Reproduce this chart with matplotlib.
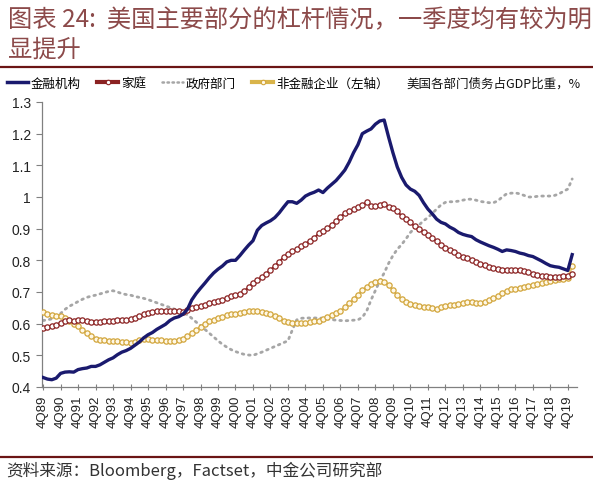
import matplotlib
matplotlib.use('Agg')
import matplotlib.pyplot as plt
from matplotlib.lines import Line2D
from matplotlib.ticker import FuncFormatter

# ---------------- data ----------------
tick_labels = ["4Q89", "4Q90", "4Q91", "4Q92", "4Q93", "4Q94", "4Q95", "4Q96",
               "4Q97", "4Q98", "4Q99", "4Q00", "4Q01", "4Q02", "4Q03", "4Q04",
               "4Q05", "4Q06", "4Q07", "4Q08", "4Q09", "4Q10", "4Q11", "4Q12",
               "4Q13", "4Q14", "4Q15", "4Q16", "4Q17", "4Q18", "4Q19"]

financial = [0.430, 0.425, 0.423, 0.428, 0.443, 0.447, 0.448, 0.447, 0.455, 0.458,
             0.460, 0.465, 0.465, 0.470, 0.478, 0.486, 0.492, 0.502, 0.510, 0.515,
             0.522, 0.532, 0.542, 0.555, 0.565, 0.572, 0.582, 0.590, 0.598, 0.610,
             0.618, 0.622, 0.630, 0.645, 0.675, 0.695, 0.712, 0.728, 0.745, 0.760,
             0.772, 0.782, 0.795, 0.800, 0.800, 0.815, 0.832, 0.848, 0.862, 0.895,
             0.910, 0.918, 0.925, 0.935, 0.950, 0.968, 0.985, 0.985, 0.980, 0.990,
             1.003, 1.010, 1.015, 1.022, 1.014, 1.028, 1.040, 1.052, 1.068, 1.085,
             1.110, 1.140, 1.165, 1.200, 1.208, 1.215, 1.230, 1.240, 1.243, 1.190,
             1.140, 1.095, 1.062, 1.038, 1.025, 1.018, 1.005, 0.982, 0.962, 0.947,
             0.930, 0.920, 0.915, 0.905, 0.898, 0.888, 0.882, 0.878, 0.875, 0.865,
             0.858, 0.852, 0.846, 0.841, 0.835, 0.828, 0.833, 0.831, 0.828, 0.823,
             0.820, 0.815, 0.812, 0.805, 0.798, 0.790, 0.783, 0.780, 0.778, 0.773,
             0.768, 0.818]

household = [0.587, 0.588, 0.592, 0.597, 0.603, 0.610, 0.612, 0.609, 0.611, 0.612,
             0.608, 0.606, 0.605, 0.605, 0.607, 0.609, 0.610, 0.611, 0.612, 0.612,
             0.615, 0.619, 0.624, 0.629, 0.633, 0.638, 0.640, 0.640, 0.641, 0.640,
             0.641, 0.639, 0.638, 0.643, 0.648, 0.652, 0.656, 0.660, 0.665, 0.670,
             0.672, 0.674, 0.682, 0.686, 0.690, 0.695, 0.703, 0.715, 0.730, 0.738,
             0.747, 0.757, 0.770, 0.782, 0.795, 0.810, 0.820, 0.828, 0.835, 0.845,
             0.852, 0.862, 0.870, 0.885, 0.892, 0.902, 0.912, 0.925, 0.938, 0.948,
             0.955, 0.962, 0.968, 0.975, 0.984, 0.972, 0.972, 0.975, 0.978, 0.970,
             0.965, 0.955, 0.940, 0.930, 0.920, 0.907, 0.900, 0.890, 0.880, 0.872,
             0.860, 0.850, 0.840, 0.832, 0.825, 0.818, 0.812, 0.806, 0.800, 0.795,
             0.790, 0.785, 0.780, 0.776, 0.773, 0.771, 0.770, 0.770, 0.770, 0.768,
             0.767, 0.763, 0.758, 0.755, 0.752, 0.749, 0.748, 0.747, 0.748, 0.750,
             0.752, 0.757]

government = [0.610, 0.612, 0.615, 0.622, 0.632, 0.645, 0.655, 0.662, 0.670, 0.677,
              0.683, 0.687, 0.690, 0.694, 0.698, 0.702, 0.704, 0.700, 0.695, 0.692,
              0.690, 0.686, 0.683, 0.680, 0.676, 0.671, 0.666, 0.661, 0.656, 0.651,
              0.646, 0.641, 0.636, 0.628, 0.617, 0.605, 0.594, 0.582, 0.570, 0.558,
              0.546, 0.535, 0.526, 0.518, 0.512, 0.507, 0.503, 0.501, 0.500, 0.505,
              0.510, 0.516, 0.522, 0.528, 0.534, 0.540, 0.546, 0.580, 0.612, 0.617,
              0.618, 0.618, 0.618, 0.618, 0.617, 0.615, 0.613, 0.611, 0.610, 0.609,
              0.610, 0.611, 0.612, 0.620, 0.640, 0.675, 0.705, 0.735, 0.760, 0.790,
              0.815, 0.835, 0.850, 0.868, 0.888, 0.902, 0.912, 0.925, 0.935, 0.948,
              0.962, 0.975, 0.983, 0.985, 0.985, 0.987, 0.990, 0.993, 0.993, 0.990,
              0.986, 0.984, 0.982, 0.982, 0.988, 1.000, 1.010, 1.012, 1.013, 1.010,
              1.005, 1.000, 1.000, 1.002, 1.003, 1.003, 1.003, 1.005, 1.010, 1.018,
              1.025, 1.057]

nonfinancial = [0.636, 0.630, 0.626, 0.625, 0.625, 0.618, 0.610, 0.600, 0.592, 0.580,
                0.570, 0.560, 0.553, 0.549, 0.547, 0.546, 0.545, 0.544, 0.543, 0.541,
                0.540, 0.543, 0.548, 0.552, 0.551, 0.549, 0.549, 0.547, 0.545, 0.546,
                0.546, 0.548, 0.552, 0.560, 0.570, 0.580, 0.590, 0.600, 0.608, 0.613,
                0.618, 0.622, 0.626, 0.630, 0.632, 0.635, 0.638, 0.641, 0.641, 0.640,
                0.637, 0.634, 0.630, 0.625, 0.618, 0.610, 0.605, 0.603, 0.602, 0.602,
                0.603, 0.604, 0.607, 0.610, 0.614, 0.620, 0.626, 0.633, 0.640, 0.652,
                0.664, 0.678, 0.692, 0.705, 0.716, 0.726, 0.733, 0.736, 0.732, 0.722,
                0.705, 0.690, 0.678, 0.668, 0.663, 0.659, 0.656, 0.653, 0.652, 0.650,
                0.647, 0.652, 0.656, 0.658, 0.660, 0.663, 0.664, 0.667, 0.668, 0.665,
                0.664, 0.668, 0.674, 0.680, 0.688, 0.697, 0.704, 0.709, 0.710, 0.714,
                0.717, 0.720, 0.722, 0.726, 0.730, 0.733, 0.735, 0.738, 0.740, 0.741,
                0.744, 0.782]

series_names = ["金融机构", "家庭", "政府部门", "非金融企业（左轴）"]
unit_note = "美国各部门债务占GDP比重，%"
title_line1 = "图表 24:  美国主要部分的杠杆情况，一季度均有较为明"
title_line2 = "显提升"
source_text = "资料来源：Bloomberg，Factset，中金公司研究部"

# ---------------- style ----------------
CJK = ['Noto Sans CJK SC', 'DejaVu Sans']
plt.rcParams['font.family'] = ['Liberation Sans', 'Noto Sans CJK SC', 'DejaVu Sans']

c_blue = '#1A1A6E'
c_red = '#8B2222'
c_gray = '#A6A6A6'
c_rule = '#6B1414'
c_title = '#8C4A4A'

fig = plt.figure(figsize=(5.93, 4.85), dpi=100)
ax = fig.add_axes([42 / 593, 1 - 388 / 485, (577 - 42) / 593, (388 - 103) / 485])

x = list(range(len(financial)))
ax.plot(x, government, color=c_gray, lw=2.0, ls=(0, (0.6, 1.7)),
        dash_capstyle='round', zorder=2)
ax.plot(x, nonfinancial, color='#E6C874', lw=1.6, marker='o', ms=3.8,
        mfc='#FFF8E6', mec='#D2A63C', mew=0.9, zorder=3)
ax.plot(x, household, color=c_red, lw=1.4, marker='o', ms=3.8,
        mfc='white', mec=c_red, mew=0.9, zorder=4)
ax.plot(x, financial, color=c_blue, lw=2.4, zorder=5)

ax.set_xlim(-0.25, 122.1)
ax.set_ylim(0.4, 1.3)
ax.set_yticks([0.4, 0.5, 0.6, 0.7, 0.8, 0.9, 1.0, 1.1, 1.2, 1.3])
ax.yaxis.set_major_formatter(FuncFormatter(lambda v, p: f"{v:g}"))
ax.set_xticks([4 * k for k in range(len(tick_labels))])
ax.set_xticklabels(tick_labels, rotation=90)

for s in ['top', 'right']:
    ax.spines[s].set_visible(False)
for s in ['left', 'bottom']:
    ax.spines[s].set_color('#808080')
    ax.spines[s].set_linewidth(0.9)
ax.tick_params(axis='y', direction='out', length=4, width=0.8, color='#808080',
               labelsize=10, pad=4, labelcolor='#222222')
ax.tick_params(axis='x', direction='inout', length=5, width=0.8, color='#808080',
               labelsize=9.5, pad=3, labelcolor='#222222')

# ---------------- legend ----------------
handles = [
    Line2D([], [], color=c_blue, lw=2.5),
    Line2D([], [], color=c_red, lw=3.0, marker='o', ms=3.2, mfc='white', mec=c_red, mew=0.8),
    Line2D([], [], color=c_gray, lw=1.8, ls=(0, (0.6, 1.4)), dash_capstyle='round'),
    Line2D([], [], color='#D9B44A', lw=3.0, marker='o', ms=3.2, mfc='#FFF8E6', mec='#D2A63C', mew=0.8),
]
leg = fig.legend(handles, series_names, loc='center left',
                 bbox_to_anchor=(0.012, 1 - 84 / 485), ncol=4, frameon=False,
                 handlelength=1.7, handletextpad=0.2, columnspacing=1.3,
                 borderaxespad=0, borderpad=0,
                 prop={'family': CJK, 'size': 9})
fig.text(581 / 593, 1 - 84 / 485, unit_note, ha='right', va='center',
         fontsize=9, family=CJK, color='#111111')

# ---------------- title, rules, source ----------------
fig.text(8 / 593, 1 - 20 / 485, title_line1, ha='left', va='center',
         fontsize=17.5, family=CJK, color=c_title)
fig.text(8 / 593, 1 - 50 / 485, title_line2, ha='left', va='center',
         fontsize=17.5, family=CJK, color=c_title)

fig.add_artist(Line2D([0, 1], [1 - 68 / 485, 1 - 68 / 485], color=c_rule, lw=1.6,
                      transform=fig.transFigure))
fig.add_artist(Line2D([0, 1], [1 - 458 / 485, 1 - 458 / 485], color=c_rule, lw=1.6,
                      transform=fig.transFigure))
fig.text(6 / 593, 1 - 471 / 485, source_text, ha='left', va='center',
         fontsize=12, family=CJK, color='#333333')

fig.savefig('out.png', dpi=100, facecolor='white')
